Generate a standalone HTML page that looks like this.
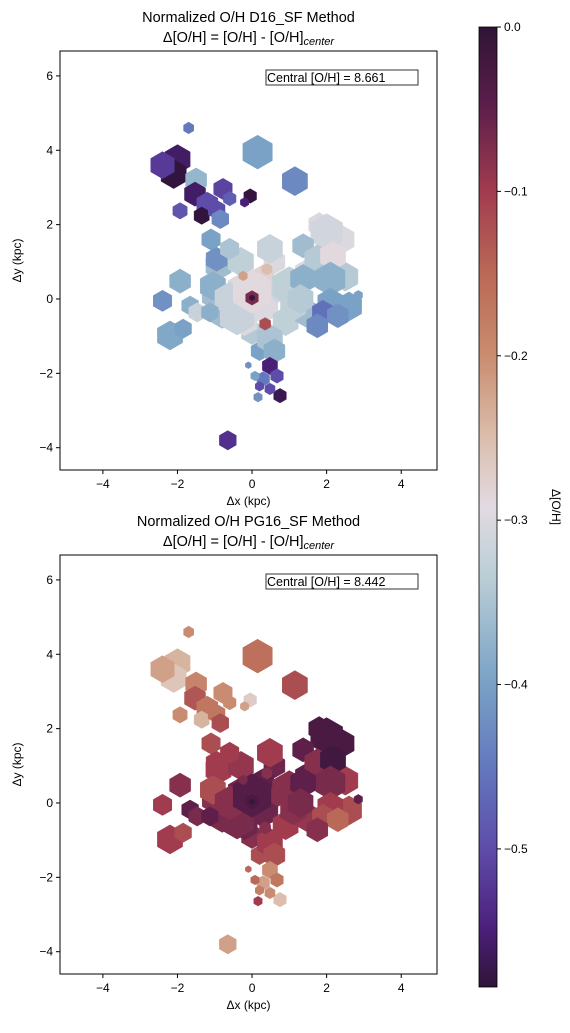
<!DOCTYPE html>
<html><head><meta charset="utf-8">
<style>
body{margin:0;background:#fff;font-family:"Liberation Sans",sans-serif;}
svg text{font-family:"Liberation Sans","DejaVu Sans",sans-serif;fill:#000;}
</style></head>
<body>
<svg id="fig" width="570" height="1028" xmlns="http://www.w3.org/2000/svg">
<defs>
<linearGradient id="cmap" x1="0" y1="0" x2="0" y2="1">
<stop offset="0" stop-color="#2f1436"/>
<stop offset="0.08" stop-color="#5a1e4a"/>
<stop offset="0.17" stop-color="#a13b4f"/>
<stop offset="0.26" stop-color="#bb6a57"/>
<stop offset="0.34" stop-color="#c98b6e"/>
<stop offset="0.43" stop-color="#dbbfae"/>
<stop offset="0.5" stop-color="#e2dae2"/>
<stop offset="0.57" stop-color="#bccfd6"/>
<stop offset="0.68" stop-color="#7ba3c6"/>
<stop offset="0.77" stop-color="#6379be"/>
<stop offset="0.86" stop-color="#5e4aa8"/>
<stop offset="0.94" stop-color="#4b1f7a"/>
<stop offset="1" stop-color="#2f1436"/>
</linearGradient>
</defs>
</svg>
<script>
// blob data: x(kpc), y(kpc), radius(kpc), value D16, value PG16
const blobX=[-0.9,-0.3,0.3,0.7,0.9,1.5,1.5,2.5,2.4,1.8,-0.8,0,0.2,-1.0,0.6,-0.3,0.3,2.6,1.1,-0.2,-2.0,-2.1,-2.4,-1.7,0.15,1.15,-1.5,-1.53,-0.78,-0.6,-0.05,-0.2,-1.2,-1.93,-1.35,-0.95,-0.85,-1.1,-0.95,-0.6,-0.4,0.48,0.48,1.0,-1.05,-0.6,2.0,1.37,1.75,2.17,2.1,1.37,1.3,2.1,1.9,2.3,1.75,2.85,-1.93,-2.4,-1.66,-1.47,-1.13,-2.2,-1.85,0.6,0.48,0.67,0.3,0.75,0.48,0.16,0.2,0.08,-0.1,-0.65,0,-0.24,0.4,0.35,0,0];
const blobY=[0.9,1.0,-0.2,0.3,-0.6,0.7,-0.4,0.6,1.6,2.0,-0.4,-0.9,-1.4,0.1,1.0,0.3,0.6,-0.2,-0.2,-0.6,3.76,3.36,3.6,4.6,3.95,3.17,3.2,2.82,2.96,2.7,2.77,2.6,2.55,2.37,2.24,2.4,2.15,1.6,1.07,1.35,-0.45,-1.07,1.35,0.35,0.35,0,1.8,1.43,1.07,1.16,0.54,0.54,0,-0.1,-0.36,-0.45,-0.72,0.1,0.48,-0.05,-0.18,-0.36,-0.36,-0.98,-0.8,-1.4,-1.8,-2.07,-2.15,-2.6,-2.42,-2.64,-2.35,-2.07,-1.78,-3.8,0.2,0.62,0.8,-0.67,0.03,0.03];
const blobR=[0.3,0.3,0.35,0.3,0.3,0.3,0.3,0.3,0.3,0.25,0.3,0.25,0.2,0.3,0.25,0.3,0.25,0.3,0.3,0.3,0.3,0.3,0.28,0.12,0.35,0.3,0.25,0.25,0.22,0.15,0.15,0.1,0.25,0.17,0.18,0.2,0.2,0.22,0.25,0.22,0.4,0.3,0.3,0.4,0.3,0.35,0.38,0.25,0.3,0.3,0.35,0.3,0.3,0.3,0.25,0.25,0.25,0.1,0.25,0.22,0.2,0.2,0.2,0.3,0.2,0.25,0.18,0.15,0.15,0.15,0.12,0.1,0.1,0.1,0.07,0.2,0.45,0.1,0.12,0.13,0.15,0.06];
const valD16=[-0.36,-0.33,-0.3,-0.31,-0.33,-0.3,-0.36,-0.34,-0.3,-0.3,-0.36,-0.34,-0.4,-0.36,-0.3,-0.3,-0.28,-0.4,-0.33,-0.3,-0.56,-0.58,-0.52,-0.45,-0.40,-0.43,-0.37,-0.56,-0.51,-0.48,-0.58,-0.55,-0.5,-0.49,-0.58,-0.5,-0.43,-0.4,-0.42,-0.35,-0.32,-0.35,-0.32,-0.33,-0.38,-0.32,-0.31,-0.36,-0.34,-0.29,-0.38,-0.38,-0.34,-0.4,-0.46,-0.42,-0.43,-0.4,-0.38,-0.42,-0.38,-0.32,-0.38,-0.39,-0.4,-0.38,-0.55,-0.5,-0.45,-0.57,-0.5,-0.42,-0.5,-0.4,-0.42,-0.53,-0.29,-0.22,-0.25,-0.12,-0.07,-0.01];
const valPG16=[-0.1,-0.09,-0.06,-0.08,-0.1,-0.05,-0.09,-0.1,-0.03,-0.03,-0.07,-0.08,-0.12,-0.08,-0.06,-0.06,-0.05,-0.12,-0.08,-0.06,-0.24,-0.26,-0.22,-0.2,-0.16,-0.12,-0.19,-0.13,-0.2,-0.2,-0.27,-0.22,-0.17,-0.2,-0.24,-0.17,-0.12,-0.12,-0.1,-0.1,-0.07,-0.1,-0.1,-0.08,-0.12,-0.08,-0.03,-0.05,-0.08,-0.02,-0.07,-0.05,-0.07,-0.1,-0.12,-0.15,-0.08,-0.05,-0.08,-0.1,-0.05,-0.07,-0.05,-0.1,-0.12,-0.12,-0.2,-0.17,-0.22,-0.25,-0.2,-0.1,-0.18,-0.15,-0.15,-0.22,-0.04,-0.07,-0.08,-0.08,-0.03,-0.01];
const xTicks=[-4,-2,0,2,4];
const yTicks=[6,4,2,0,-2,-4];
const cbTicks=[0.0,-0.1,-0.2,-0.3,-0.4,-0.5];
const centralVals=["8.661","8.442"];

const NS="http://www.w3.org/2000/svg";
const svg=document.getElementById('fig');
function mk(tag,attrs,parent){const e=document.createElementNS(NS,tag);for(const k in attrs)e.setAttribute(k,attrs[k]);(parent||svg).appendChild(e);return e;}
const stops=[[0,[47,20,54]],[0.08,[90,30,74]],[0.17,[161,59,79]],[0.26,[187,106,87]],[0.34,[201,139,110]],[0.43,[219,191,174]],[0.5,[226,218,226]],[0.57,[188,207,214]],[0.68,[123,163,198]],[0.77,[99,121,190]],[0.86,[94,74,168]],[0.94,[75,31,122]],[1,[47,20,54]]];
function cmap(v){let t=Math.max(0,Math.min(1,-v/0.584));for(let i=1;i<stops.length;i++){if(t<=stops[i][0]){const a=stops[i-1],b=stops[i];const f=(t-a[0])/(b[0]-a[0]);const c=a[1].map((q,j)=>Math.round(q+(b[1][j]-q)*f));return `rgb(${c[0]},${c[1]},${c[2]})`;}}return 'rgb(47,20,54)';}

const X0=60,X1=437,xmin=-5.15,xmax=4.96;
function panel(top,vals,idx,title){
  const bottom=top+419,ymin=-4.6,ymax=6.67;
  const sx=v=>X0+(v-xmin)/(xmax-xmin)*(X1-X0);
  const sy=v=>bottom-(v-ymin)/(ymax-ymin)*(bottom-top);
  const g=mk('g',{});
  
  
  for(let i=0;i<blobX.length;i++){
    const cx=sx(blobX[i]),cy=sy(blobY[i]),r=1.3*blobR[i]*(X1-X0)/(xmax-xmin);
    let pts=[];for(let k=0;k<6;k++){const a=Math.PI/6+k*Math.PI/3;pts.push((cx+r*Math.cos(a)).toFixed(1)+','+(cy+r*Math.sin(a)).toFixed(1));}
    const p=mk('polygon',{points:pts.join(' '),fill:cmap(vals[i]),stroke:cmap(vals[i]),'stroke-width':0.5},g);
    
    
  }
  const fr=mk('rect',{x:X0,y:top,width:X1-X0,height:bottom-top,fill:'none',stroke:'#000','stroke-width':1});
  
  
  xTicks.forEach(t=>{const x=sx(t);mk('line',{x1:x,x2:x,y1:bottom,y2:bottom+4,stroke:'#000'});
    const tx=mk('text',{x:x,y:bottom+18,'text-anchor':'middle','font-size':12});tx.textContent=(t<0?'\u2212':'')+Math.abs(t);
    
    });
  yTicks.forEach(t=>{const y=sy(t);mk('line',{x1:X0-4,x2:X0,y1:y,y2:y,stroke:'#000'});
    const tx=mk('text',{x:X0-7,y:y+4,'text-anchor':'end','font-size':12});tx.textContent=(t<0?'\u2212':'')+Math.abs(t);
    
    });
  const xl=mk('text',{x:(X0+X1)/2,y:bottom+35,'text-anchor':'middle','font-size':12});xl.textContent='\u0394x (kpc)';
  
  
  const yl=mk('text',{x:0,y:0,'text-anchor':'middle','font-size':12,transform:`translate(21,${(top+bottom)/2}) rotate(-90)`});yl.textContent='\u0394y (kpc)';
  
  
  const t1=mk('text',{x:(X0+X1)/2,y:top-29,'text-anchor':'middle','font-size':14.5});t1.textContent=title;
  
  
  const t2=mk('text',{x:(X0+X1)/2,y:top-9,'text-anchor':'middle','font-size':14.5});
  t2.innerHTML='\u0394[O/H] = [O/H] - [O/H]<tspan font-style="italic" font-size="11" dy="3">center</tspan>';
  
  
  mk('rect',{x:266,y:top+19,width:152,height:15,fill:'#fff',stroke:'#333','stroke-width':1});
  const ct=mk('text',{x:267,y:top+31,'font-size':12.5});ct.textContent='Central [O/H] = '+centralVals[idx];
  
  
}
panel(51,valD16,0,'Normalized O/H D16_SF Method');
panel(555,valPG16,1,'Normalized O/H PG16_SF Method');

// colorbar
const cbTop=27,cbBot=987,cbMin=-0.584;
const cb=mk('rect',{x:479,y:cbTop,width:18,height:cbBot-cbTop,fill:'url(#cmap)',stroke:'#000','stroke-width':0.8});


cbTicks.forEach(t=>{const y=cbTop+(t/cbMin)*(cbBot-cbTop);mk('line',{x1:497,x2:501,y1:y,y2:y,stroke:'#000'});
  const tx=mk('text',{x:504,y:y+4,'font-size':12});tx.textContent=(t<0?'\u2212':'')+Math.abs(t).toFixed(1);
  
  });
const cl=mk('text',{x:0,y:0,'text-anchor':'middle','font-size':12,transform:'translate(552,507) rotate(90)'});cl.textContent='\u0394[O/H]';


</script>
</body></html>
